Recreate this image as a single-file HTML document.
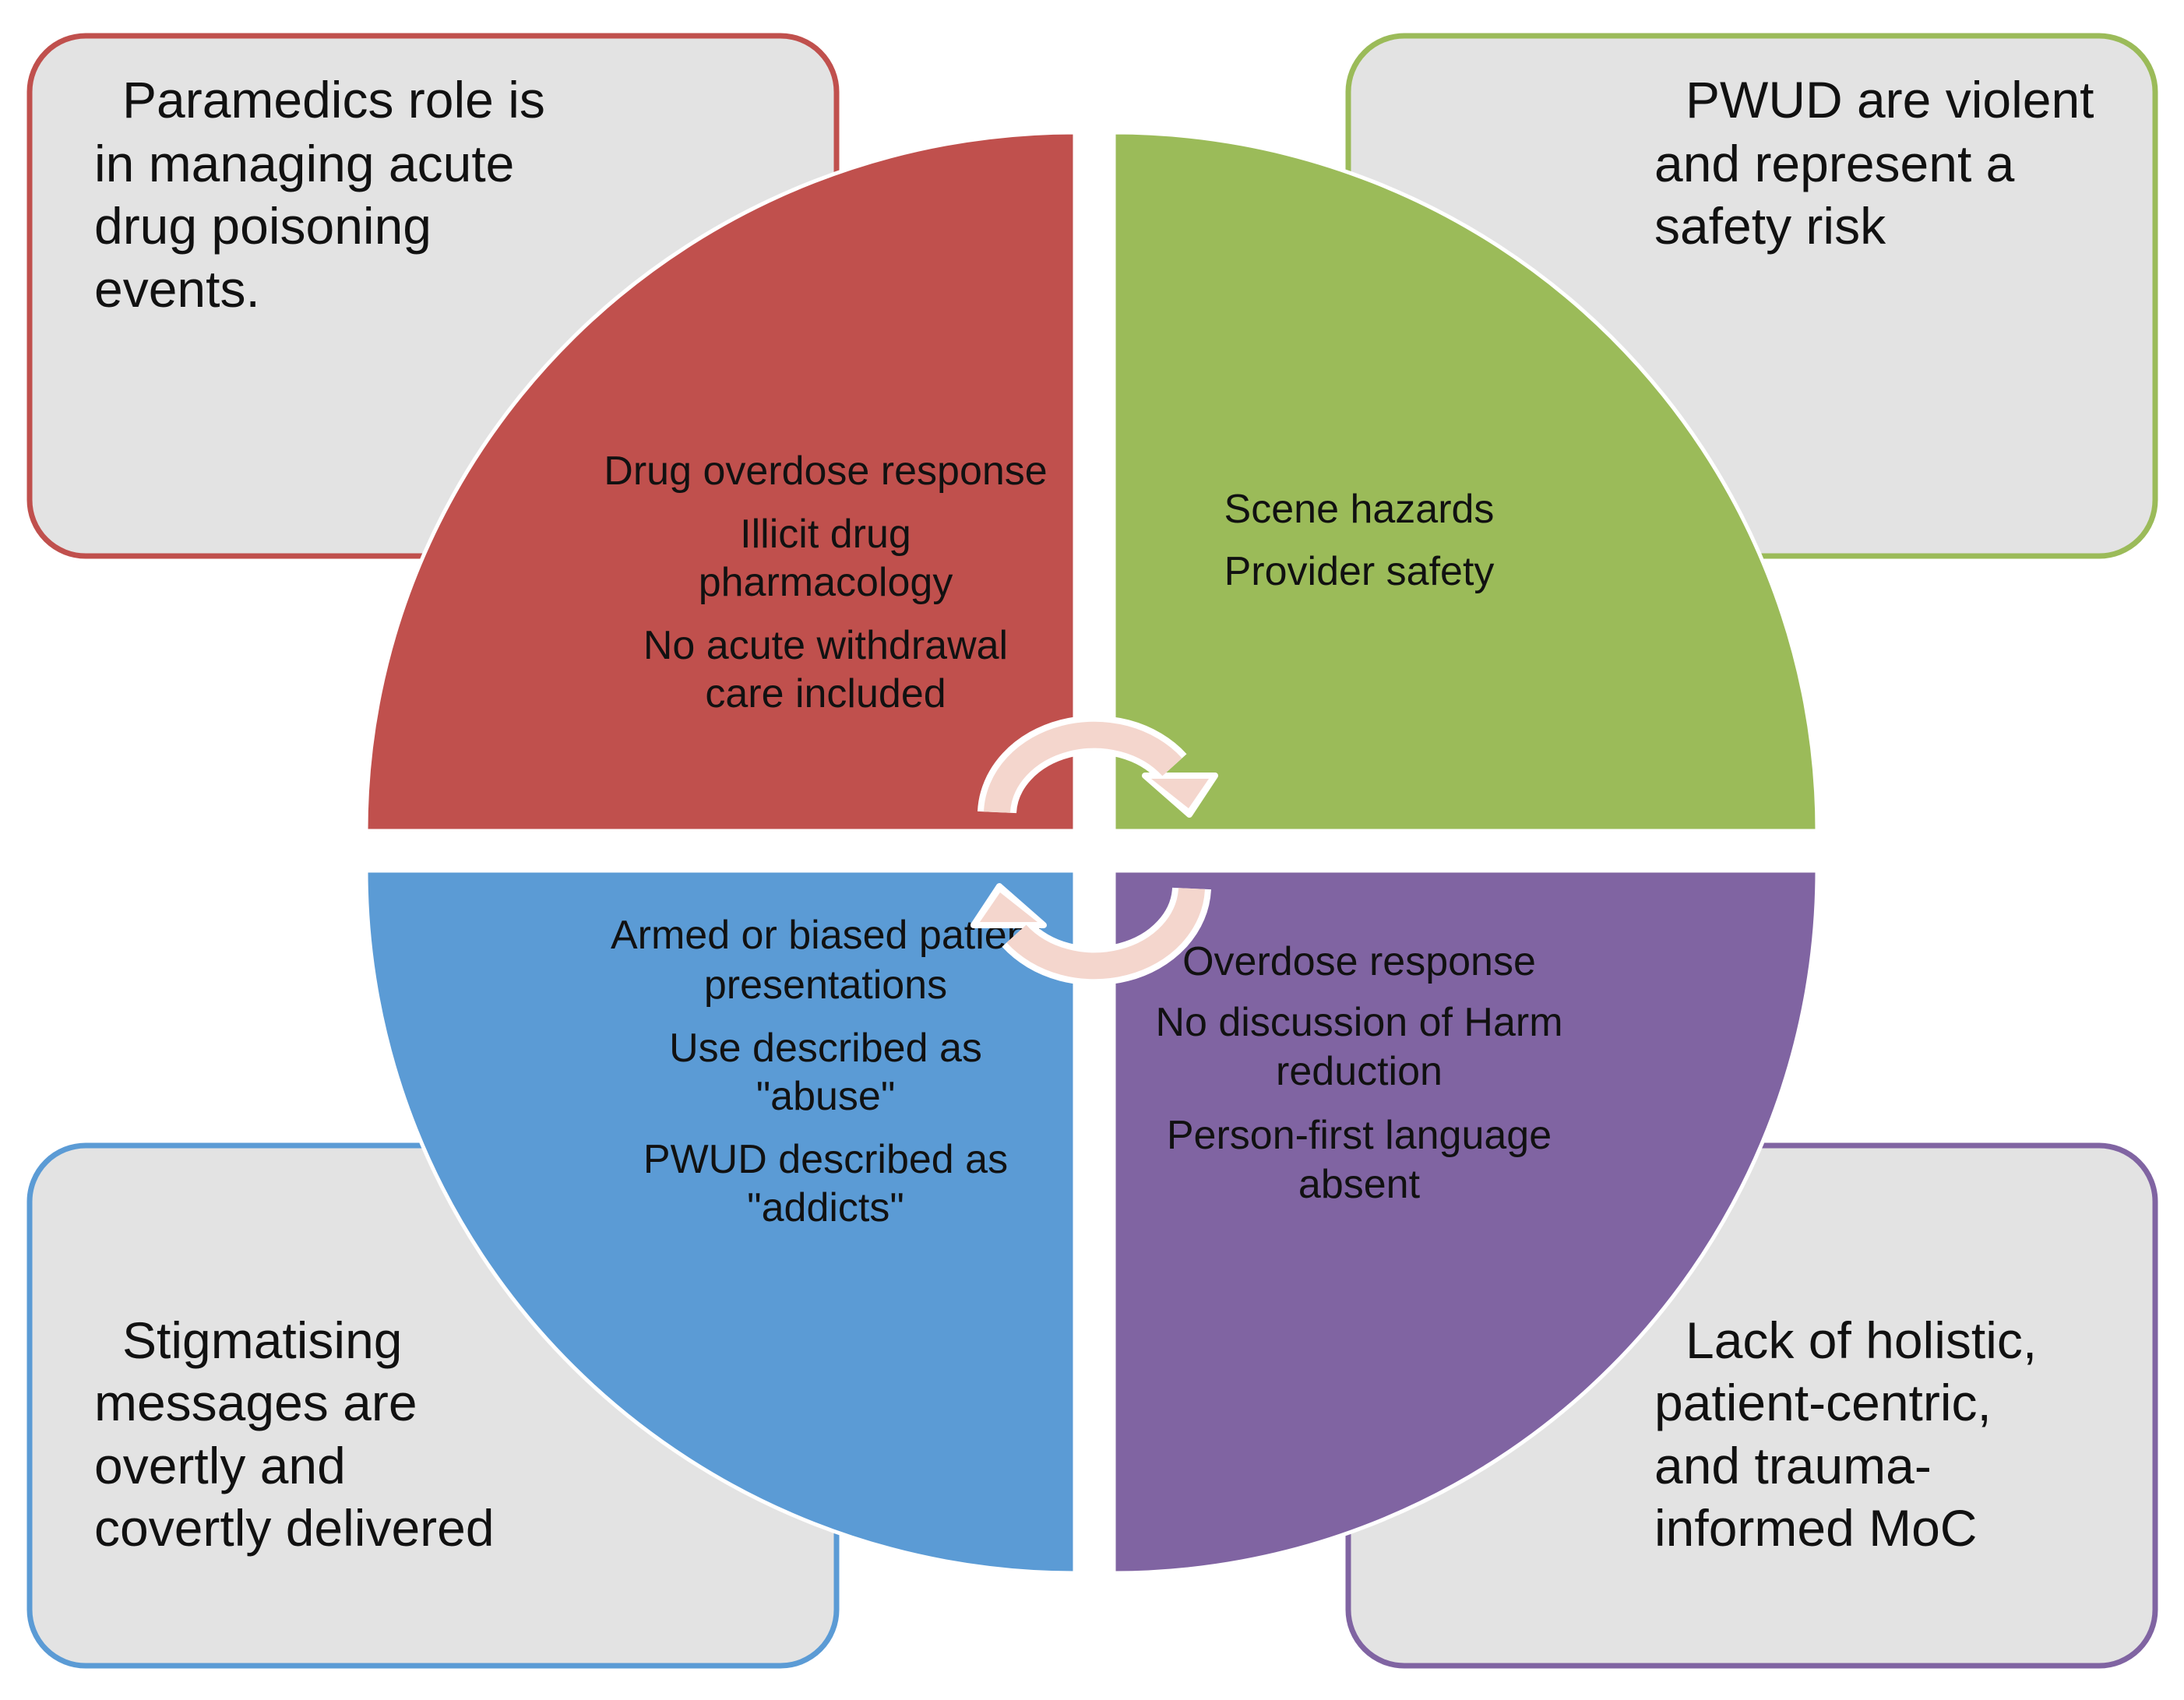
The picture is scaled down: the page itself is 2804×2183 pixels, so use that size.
<!DOCTYPE html>
<html><head><meta charset="utf-8"><style>
html,body{margin:0;padding:0;background:#fff;}
svg{display:block;}
text{font-family:"Liberation Sans",sans-serif;fill:#111;}
.b{font-size:66px;}
.q{font-size:52px;text-anchor:middle;}
</style></head><body>
<svg width="2804" height="2183" viewBox="0 0 2804 2183" xmlns="http://www.w3.org/2000/svg">
<rect width="2804" height="2183" fill="#fff"/>
<rect x="38" y="46" width="1036" height="668" rx="72" fill="#e3e3e3" stroke="#c0504d" stroke-width="7"/>
<rect x="1731" y="46" width="1036" height="668" rx="72" fill="#e3e3e3" stroke="#9bbb59" stroke-width="7"/>
<rect x="38" y="1471" width="1036" height="668" rx="72" fill="#e3e3e3" stroke="#5b9bd5" stroke-width="7"/>
<rect x="1731" y="1471" width="1036" height="668" rx="72" fill="#e3e3e3" stroke="#8064a2" stroke-width="7"/>
<path d="M1380,1067 L470,1067 A910,897 0 0 1 1380,170 Z" fill="#c0504d" stroke="#fff" stroke-width="5"/>
<path d="M1430,1067 L1430,170 A903,897 0 0 1 2333,1067 Z" fill="#9bbb59" stroke="#fff" stroke-width="5"/>
<path d="M1380,1118 L1380,2020 A910,902 0 0 1 470,1118 Z" fill="#5b9bd5" stroke="#fff" stroke-width="5"/>
<path d="M1430,1118 L2333,1118 A903,902 0 0 1 1430,2020 Z" fill="#8064a2" stroke="#fff" stroke-width="5"/>
<text class="b" x="157" y="151">Paramedics role is</text>
<text class="b" x="121" y="233">in managing acute</text>
<text class="b" x="121" y="313">drug poisoning</text>
<text class="b" x="121" y="394">events.</text>
<text class="b" x="2164" y="151">PWUD are violent</text>
<text class="b" x="2124" y="233">and represent a</text>
<text class="b" x="2124" y="313">safety risk</text>
<text class="b" x="157" y="1744">Stigmatising</text>
<text class="b" x="121" y="1824">messages are</text>
<text class="b" x="121" y="1905">overtly and</text>
<text class="b" x="121" y="1985">covertly delivered</text>
<text class="b" x="2164" y="1744">Lack of holistic,</text>
<text class="b" x="2124" y="1824">patient-centric,</text>
<text class="b" x="2124" y="1905">and trauma-</text>
<text class="b" x="2124" y="1985">informed MoC</text>
<text class="q" x="1060" y="622">Drug overdose response</text>
<text class="q" x="1060" y="703">Illicit drug</text>
<text class="q" x="1060" y="765">pharmacology</text>
<text class="q" x="1060" y="846">No acute withdrawal</text>
<text class="q" x="1060" y="908">care included</text>
<text class="q" x="1745" y="671">Scene hazards</text>
<text class="q" x="1745" y="751">Provider safety</text>
<text class="q" x="1060" y="1218">Armed or biased patient</text>
<text class="q" x="1060" y="1282">presentations</text>
<text class="q" x="1060" y="1363">Use described as</text>
<text class="q" x="1060" y="1425">"abuse"</text>
<text class="q" x="1060" y="1506">PWUD described as</text>
<text class="q" x="1060" y="1568">"addicts"</text>
<text class="q" x="1745" y="1252">Overdose response</text>
<text class="q" x="1745" y="1330">No discussion of Harm</text>
<text class="q" x="1745" y="1393">reduction</text>
<text class="q" x="1745" y="1475">Person-first language</text>
<text class="q" x="1745" y="1538">absent</text>
<g>
<path d="M1280,1043 A125,103 0 0 1 1505,985" fill="none" stroke="#fff" stroke-width="50"/>
<polygon points="1470,996 1560,996 1527,1046" fill="#fff" stroke="#fff" stroke-width="8" stroke-linejoin="round"/>
<path d="M1280,1043 A125,103 0 0 1 1505,985" fill="none" stroke="#f4d6cd" stroke-width="34"/>
<polygon points="1478,1000 1552,1000 1526,1038" fill="#f4d6cd"/>
</g>
<g transform="rotate(180 1405 1092)">
<path d="M1280,1043 A125,103 0 0 1 1505,985" fill="none" stroke="#fff" stroke-width="50"/>
<polygon points="1470,996 1560,996 1527,1046" fill="#fff" stroke="#fff" stroke-width="8" stroke-linejoin="round"/>
<path d="M1280,1043 A125,103 0 0 1 1505,985" fill="none" stroke="#f4d6cd" stroke-width="34"/>
<polygon points="1478,1000 1552,1000 1526,1038" fill="#f4d6cd"/>
</g>
</svg>
</body></html>
